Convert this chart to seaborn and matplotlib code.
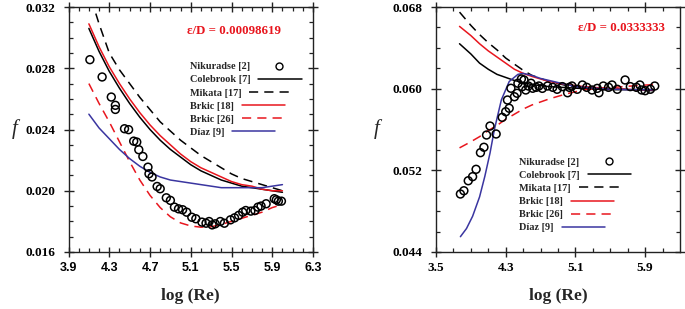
import numpy as np
import pandas as pd
import matplotlib
matplotlib.use("Agg")
import matplotlib.pyplot as plt
from matplotlib.ticker import MultipleLocator, FixedLocator, FormatStrFormatter
from matplotlib.lines import Line2D
from matplotlib.font_manager import FontProperties
import seaborn as sns

# ---------------- Left panel data (eps/D = 0.00098619) ----------------
L_x = [4.1, 4.2, 4.3, 4.4, 4.5, 4.6, 4.7, 4.8, 4.9, 5.0, 5.1, 5.2, 5.3, 5.4, 5.5, 5.6, 5.7, 5.8, 5.9, 6.0]
L_colebrook = [0.0306, 0.0291, 0.0278, 0.0267, 0.0257, 0.0248, 0.0240, 0.0233, 0.0227, 0.0222, 0.0217,
               0.0213, 0.0210, 0.0207, 0.0205, 0.0203, 0.0202, 0.0201, 0.0200, 0.0199]
L_brkic18 = [0.0309, 0.0294, 0.0281, 0.0270, 0.0260, 0.0251, 0.0243, 0.0236, 0.0230, 0.0224, 0.0219,
             0.0215, 0.0212, 0.0209, 0.0206, 0.0204, 0.0203, 0.0201, 0.0200, 0.0200]
L_mikata = [0.0330, 0.0309, 0.0290, 0.0279, 0.0270, 0.0261, 0.0253, 0.0245, 0.0239, 0.0233, 0.0228,
            0.0223, 0.0219, 0.0215, 0.0211, 0.0208, 0.0206, 0.0204, 0.0202, 0.0200]
L_brkic26 = [0.0270, 0.0257, 0.0245, 0.0232, 0.0219, 0.0207, 0.0197, 0.0189, 0.0183, 0.0179, 0.0177,
             0.01762, 0.01765, 0.0178, 0.0180, 0.0182, 0.0184, 0.0186, 0.0189, 0.0191]
L_diaz = [0.0250, 0.0241, 0.0234, 0.0227, 0.0221, 0.0216, 0.0212, 0.0209, 0.0207, 0.0206, 0.0205,
          0.0204, 0.0203, 0.0202, 0.0202, 0.0202, 0.0202, 0.0202, 0.0203, 0.0204]
L_nik_x = [4.11, 4.23, 4.32, 4.36, 4.36, 4.45, 4.49, 4.54, 4.57, 4.59, 4.63, 4.68, 4.69, 4.72, 4.77, 4.80,
           4.86, 4.90, 4.94, 4.98, 5.02, 5.06, 5.11, 5.15, 5.21, 5.25, 5.28, 5.31, 5.34, 5.39, 5.43, 5.49,
           5.53, 5.57, 5.61, 5.64, 5.69, 5.73, 5.76, 5.79, 5.84, 5.92, 5.94, 5.96, 5.99]
L_nik_f = [0.02856, 0.02743, 0.02612, 0.02558, 0.02531, 0.02405, 0.02399, 0.02324, 0.02318, 0.02268,
           0.02224, 0.02154, 0.02111, 0.02090, 0.02028, 0.02013, 0.01954, 0.01937, 0.01893, 0.01882,
           0.01876, 0.01860, 0.01827, 0.01817, 0.01795, 0.01788, 0.01799, 0.01777, 0.01784, 0.01799,
           0.01788, 0.01810, 0.01823, 0.01839, 0.01860, 0.01871, 0.01867, 0.01871, 0.01893, 0.01900,
           0.01915, 0.01948, 0.01941, 0.01932, 0.01932]
L_xticks = [3.9, 4.3, 4.7, 5.1, 5.5, 5.9, 6.3]
L_yticks = [0.016, 0.020, 0.024, 0.028, 0.032]

# ---------------- Right panel data (eps/D = 0.0333333) ----------------
R_x = [3.77, 3.9, 4.0, 4.1, 4.2, 4.3, 4.4, 4.5, 4.6, 4.8, 5.0, 5.2, 5.5, 5.8, 6.0]
R_colebrook = [0.0644, 0.0634, 0.0625, 0.0619, 0.0614, 0.0611, 0.0608, 0.0606, 0.0604, 0.0602, 0.0601,
               0.0600, 0.0599, 0.0599, 0.0598]
R_brkic18 = [0.0661, 0.0652, 0.0644, 0.0637, 0.0631, 0.0625, 0.0619, 0.0615, 0.0612, 0.0607, 0.0604,
             0.0602, 0.0600, 0.0599, 0.0599]
R_mikata = [0.0675, 0.0662, 0.0653, 0.0645, 0.0638, 0.0630, 0.0624, 0.0618, 0.0613, 0.0607, 0.0603,
            0.0601, 0.0600, 0.0599, 0.0599]
R_brkic26 = [0.0542, 0.0548, 0.0553, 0.0559, 0.0564, 0.0570, 0.0575, 0.0580, 0.0584, 0.0590, 0.0595,
             0.0599, 0.0601, 0.0603, 0.0604]
R_diaz_x = [3.78, 3.85, 3.92, 4.0, 4.06, 4.12, 4.17, 4.25, 4.34, 4.44, 4.5, 4.6, 4.7, 4.9, 5.1, 5.4, 5.7, 6.0]
R_diaz = [0.0455, 0.0463, 0.0475, 0.0494, 0.0514, 0.0537, 0.0560, 0.0589, 0.0607, 0.0614, 0.0615,
          0.0613, 0.0610, 0.0606, 0.0602, 0.0600, 0.0599, 0.0599]
R_nik_x = [3.78, 3.82, 3.87, 3.92, 3.96, 4.01, 4.05, 4.08, 4.12, 4.19, 4.26, 4.30, 4.34, 4.32, 4.36,
           4.40, 4.43, 4.44, 4.48, 4.49, 4.51, 4.53, 4.56, 4.59, 4.61, 4.65, 4.68, 4.72, 4.78, 4.84,
           4.89, 4.95, 5.01, 5.03, 5.06, 5.12, 5.18, 5.23, 5.29, 5.35, 5.37, 5.42, 5.48, 5.52, 5.58,
           5.67, 5.73, 5.80, 5.84, 5.86, 5.90, 5.96, 6.01]
R_nik_f = [0.04968, 0.05000, 0.05098, 0.05138, 0.05210, 0.05373, 0.05426, 0.05546, 0.05634, 0.05556,
           0.05719, 0.05774, 0.05808, 0.05889, 0.06004, 0.05921, 0.05955, 0.06053, 0.06095, 0.06020,
           0.06085, 0.05987, 0.06026, 0.06053, 0.06004, 0.06013, 0.06026, 0.06003, 0.06026, 0.06013,
           0.05994, 0.06020, 0.05960, 0.06013, 0.06026, 0.05994, 0.06036, 0.06013, 0.05987, 0.06003,
           0.05960, 0.06026, 0.06013, 0.06036, 0.05994, 0.06085, 0.06020, 0.06013, 0.06036, 0.05987,
           0.05980, 0.05994, 0.06026]
R_xticks = [3.5, 4.3, 5.1, 5.9]
R_xminor = [3.7, 3.9, 4.1, 4.5, 4.7, 4.9, 5.3, 5.5, 5.7, 6.1]
R_yticks = [0.044, 0.052, 0.060, 0.068]

labels = ["Nikuradse [2]", "Colebrook [7]", "Mikata [17]", "Brkic [18]", "Brkic [26]", "D\u00edaz [9]"]
RED = "#e8161e"
BLUE = "#3a35a0"
DASH = (0, (6, 4))

sns.set_style("ticks")
plt.rcParams["font.family"] = ["Liberation Serif", "DejaVu Serif"]

fig = plt.figure(figsize=(6.85, 3.09), dpi=100)
axL = fig.add_axes([68.5 / 685, 57 / 309, 244.5 / 685, 245 / 309])
axR = fig.add_axes([436 / 685, 57 / 309, 244 / 685, 245 / 309])

serif_b = dict(family="Liberation Serif", weight="bold")


def draw(ax, x, col, mik, b18, b26, dx, dz, nx, nf):
    lw = 1.1
    sns.lineplot(x=x, y=col, ax=ax, color="black", lw=lw, estimator=None, sort=False)
    sns.lineplot(x=x, y=mik, ax=ax, color="black", lw=lw, estimator=None, sort=False, linestyle=DASH)
    sns.lineplot(x=x, y=b18, ax=ax, color=RED, lw=lw, estimator=None, sort=False)
    sns.lineplot(x=x, y=b26, ax=ax, color=RED, lw=lw, estimator=None, sort=False, linestyle=DASH)
    sns.lineplot(x=dx, y=dz, ax=ax, color=BLUE, lw=lw, estimator=None, sort=False)
    sns.scatterplot(x=nx, y=nf, ax=ax, s=32, facecolor="none", edgecolor="black", linewidth=1.1, zorder=5)


draw(axL, L_x, L_colebrook, L_mikata, L_brkic18, L_brkic26, L_x, L_diaz, L_nik_x, L_nik_f)
draw(axR, R_x, R_colebrook, R_mikata, R_brkic18, R_brkic26, R_diaz_x, R_diaz, R_nik_x, R_nik_f)

axL.set_xlim(3.9, 6.3)
axL.set_ylim(0.016, 0.032)
axL.xaxis.set_major_locator(FixedLocator(L_xticks))
axL.xaxis.set_minor_locator(MultipleLocator(0.1))
axL.yaxis.set_major_locator(FixedLocator(L_yticks))
axL.yaxis.set_minor_locator(MultipleLocator(0.001))

axR.set_xlim(3.5, 6.3)
axR.set_ylim(0.044, 0.068)
axR.xaxis.set_major_locator(FixedLocator(R_xticks))
axR.xaxis.set_minor_locator(FixedLocator(R_xminor))
axR.yaxis.set_major_locator(FixedLocator(R_yticks))
axR.yaxis.set_minor_locator(MultipleLocator(0.002))

for ax in (axL, axR):
    ax.xaxis.set_major_formatter(FormatStrFormatter("%.1f"))
    ax.yaxis.set_major_formatter(FormatStrFormatter("%.3f"))
    ax.tick_params(which="major", direction="inout", length=7, width=1.0, top=True, right=True,
                   colors="#222222", labelcolor="black")
    ax.tick_params(axis="y", which="major", pad=6)
    ax.tick_params(axis="x", which="major", pad=4)
    ax.tick_params(which="minor", direction="in", length=3, width=0.9, top=True, right=True, colors="#222222")
    for s in ax.spines.values():
        s.set_linewidth(1.0)
        s.set_color("#222222")
    for t in ax.get_yticklabels():
        t.set_fontproperties(FontProperties(family="Liberation Serif", weight="bold", size=9.5))
    ax.set_xlabel("log (Re)", fontsize=12.5, **serif_b)
    ax.xaxis.set_label_coords(0.5, -0.145)
    ax.set_ylabel("f", fontsize=15, family="Liberation Serif", style="italic", rotation=0,
                  va="center", ha="center")

for t in axL.get_xticklabels():
    t.set_fontproperties(FontProperties(family="Liberation Sans", weight="bold", size=9))
for t in axR.get_xticklabels():
    t.set_fontproperties(FontProperties(family="Liberation Serif", weight="bold", size=9.5))

axL.yaxis.set_label_coords(-0.22, 0.50)
axR.yaxis.set_label_coords(-0.245, 0.50)

axL.text(0.676, 0.902, "\u03b5/D = 0.00098619", transform=axL.transAxes, color=RED, fontsize=9.3,
         ha="center", va="center", **serif_b)
axR.text(0.762, 0.914, "\u03b5/D = 0.0333333", transform=axR.transAxes, color=RED, fontsize=9.3,
         ha="center", va="center", **serif_b)


def legend(ax, anchor):
    handles = [
        Line2D([], [], marker="o", ls="none", mfc="none", mec="black", ms=5, mew=1.0),
        Line2D([], [], color="black", lw=1.1),
        Line2D([], [], color="black", lw=1.1, ls=DASH),
        Line2D([], [], color=RED, lw=1.1),
        Line2D([], [], color=RED, lw=1.1, ls=DASH),
        Line2D([], [], color=BLUE, lw=1.1),
    ]
    leg = ax.legend(handles, labels, loc="upper left", bbox_to_anchor=anchor, frameon=False,
                    markerfirst=False, handlelength=4.2, handletextpad=0.8, labelspacing=0.38,
                    borderaxespad=0, borderpad=0, prop=dict(family="Liberation Serif", weight="bold", size=7.4))
    # left-align labels; handles then follow each label (ragged), as in the original figure
    for col in leg._legend_handle_box.get_children():
        col.align = "left"
    leg.set_zorder(10)


legend(axL, (0.495, 0.775))
legend(axR, (0.34, 0.385))

fig.savefig("out.png", dpi=100)
